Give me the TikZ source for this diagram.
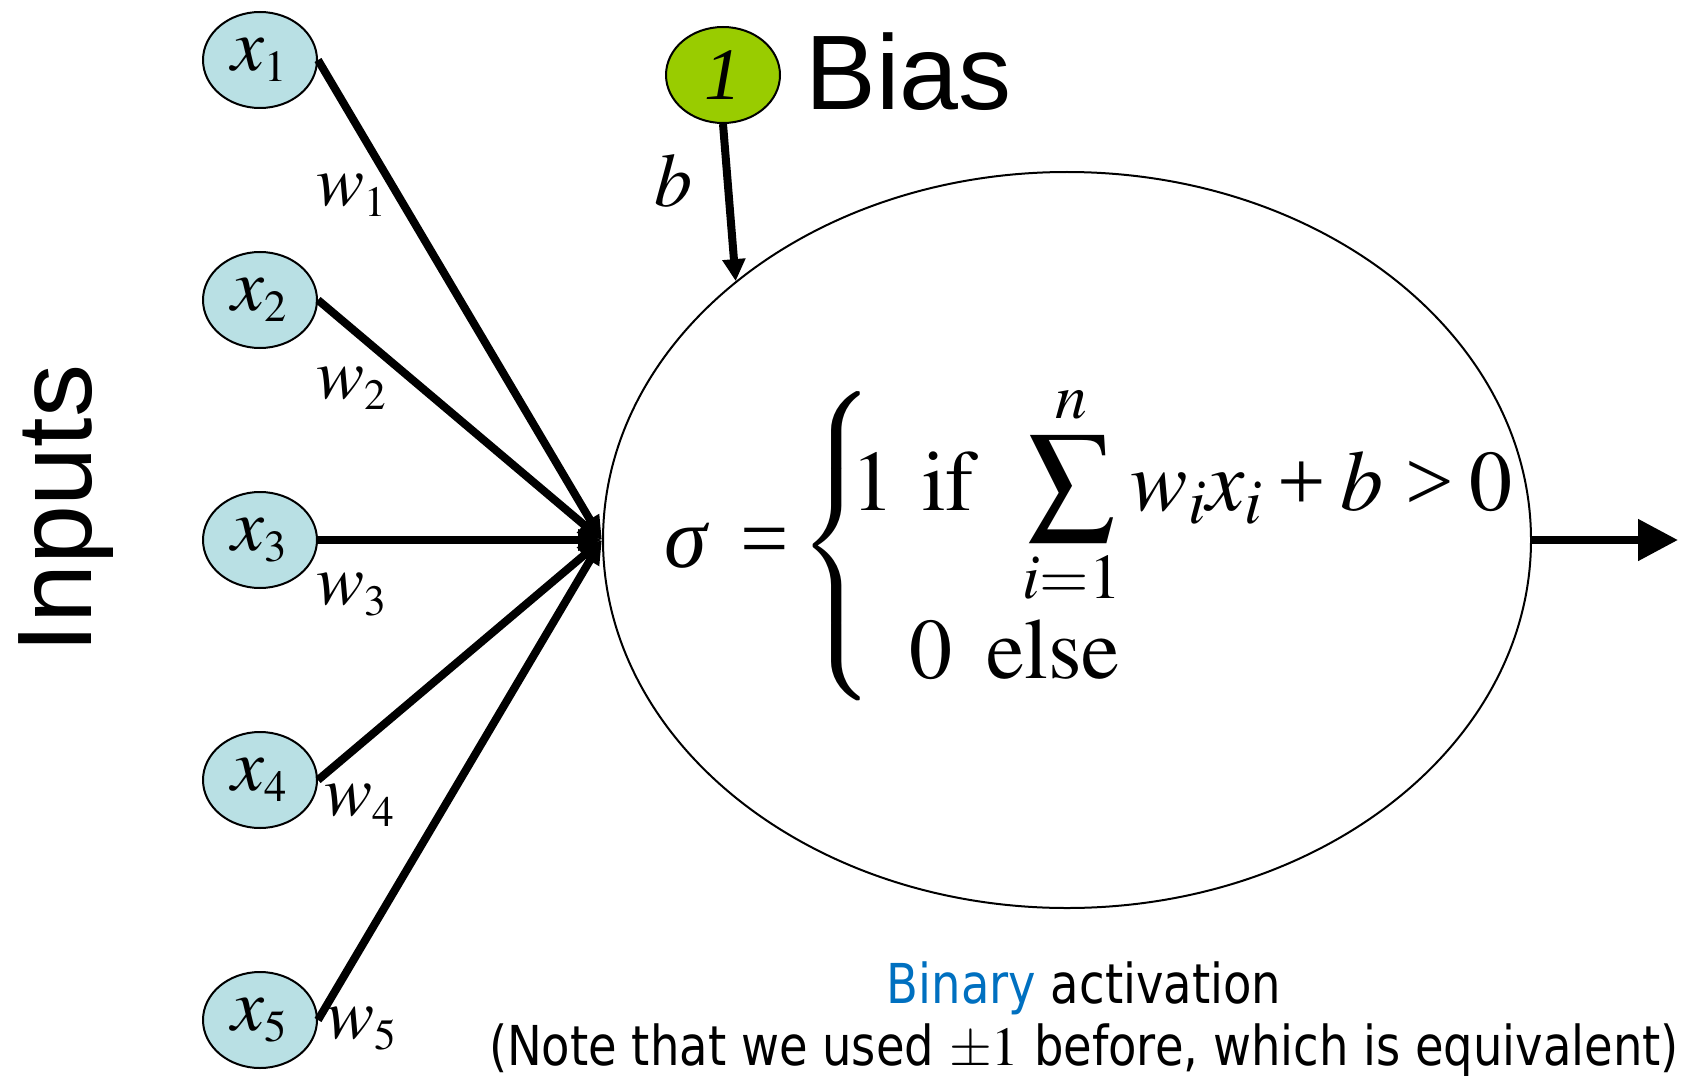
\documentclass[tikz,border=0pt]{standalone}
\usepackage{mathptmx}
\usepackage{fontspec}
\setmainfont{Liberation Serif}
\newfontfamily\arialfont{Liberation Sans}
\newfontfamily\notefont[FakeStretch=0.845]{DejaVu Sans}
\usetikzlibrary{shapes.geometric, arrows.meta, positioning}
\definecolor{inputblue}{RGB}{185,224,228}
\definecolor{biasgreen}{RGB}{153,204,0}
\definecolor{binaryblue}{RGB}{0,112,192}
\tikzset{
    inputnode/.style={ellipse, minimum width=57pt, minimum height=48pt, inner sep=0pt, draw=black, line width=1pt, fill=inputblue, font=\fontsize{37}{40}\selectfont},
    biasnode/.style={ellipse, minimum width=57pt, minimum height=48pt, inner sep=0pt, draw=black, line width=1pt, fill=biasgreen, font=\fontsize{37}{40}\selectfont},
    neuronnode/.style={ellipse, minimum width=464pt, minimum height=368pt, draw=black, line width=1pt},
    weightlabel/.style={inner sep=0pt, font=\fontsize{36}{40}\selectfont},
    bigtext/.style={inner sep=0pt, font=\arialfont\fontsize{53}{60}\selectfont},
    notetext/.style={anchor=base, inner sep=0pt, font=\notefont\fontsize{27.5}{33}\selectfont},
    inarrow/.style={line width=4pt, -{Triangle[length=12pt, width=10pt]}},
    biasarrow/.style={line width=4pt, -{Triangle[length=11pt, width=11pt]}},
    outarrow/.style={line width=4pt, -{Triangle[length=20pt, width=20pt]}}
}
\begin{document}
\begin{tikzpicture}[x=0.5pt, y=-0.5pt]
    \useasboundingbox (0,0) rectangle (1690,1075);

    % perceptron body
    \node (neuron) [neuronnode] at (1067,540) {};
    \node (rule) [anchor=west, inner sep=0pt, font=\fontsize{43}{52}\selectfont] at (664,546)
        {\delimiterfactor=1000 \delimitershortfall=0pt
        $\mbox{\itshape σ}\hspace{17pt}\mbox{=}\hspace{4.5pt}{\left\{\vrule height 86pt depth 64pt width 0pt\right.}\hspace{-13pt}
        \begin{array}{@{}l@{}}
            \displaystyle 1\hspace{14pt}\mathrm{if}\hspace{19pt}\sum\limits_{i=1}^{n} w_i x_i\hspace{7pt}\mbox{+}\hspace{7pt}b\hspace{11pt}\mbox{>}\hspace{8pt}0 \\[-1pt]
            \hspace{29pt}0\hspace{17pt}\mathrm{else}
        \end{array}$};

    % inputs
    \foreach \i in {1,...,5}
        \node (x\i) [inputnode] at (260,{60+240*(\i-1)}) {$x_{\scriptscriptstyle\i}$};
    \foreach \i/\lx/\ly in {1/352/195, 2/352/388, 3/352/595, 4/360/805, 5/362/1029}
        \node (w\i) [weightlabel] at (\lx,\ly) {$w_{\scriptscriptstyle\i}$};
    \node (inputslabel) [bigtext, rotate=90] at (66,509) {Inputs};

    % bias
    \node (bias) [biasnode] at (723,75) {\textit{1}};
    \node (biaslabel) [bigtext, anchor=base west] at (805,110) {Bias};
    \node (blabel) [inner sep=0pt, font=\fontsize{38}{40}\selectfont] at (673,181) {$b$};

    % output
    \coordinate (out) at (1678,540);

    \foreach \i in {1,...,5}
        \draw [inarrow] (x\i.east) -- (neuron.west);
    \draw [biasarrow] (bias.south) -- (neuron.142);
    \draw [outarrow] (neuron.east) -- (out);

    % caption
    \node (binnote) [notetext] at (1084,1003) {\textcolor{binaryblue}{Binary} activation};
    \node (eqnote) [notetext] at (1084,1065) {(Note that we used $\pm1$ before, which is equivalent)};
\end{tikzpicture}
\end{document}
